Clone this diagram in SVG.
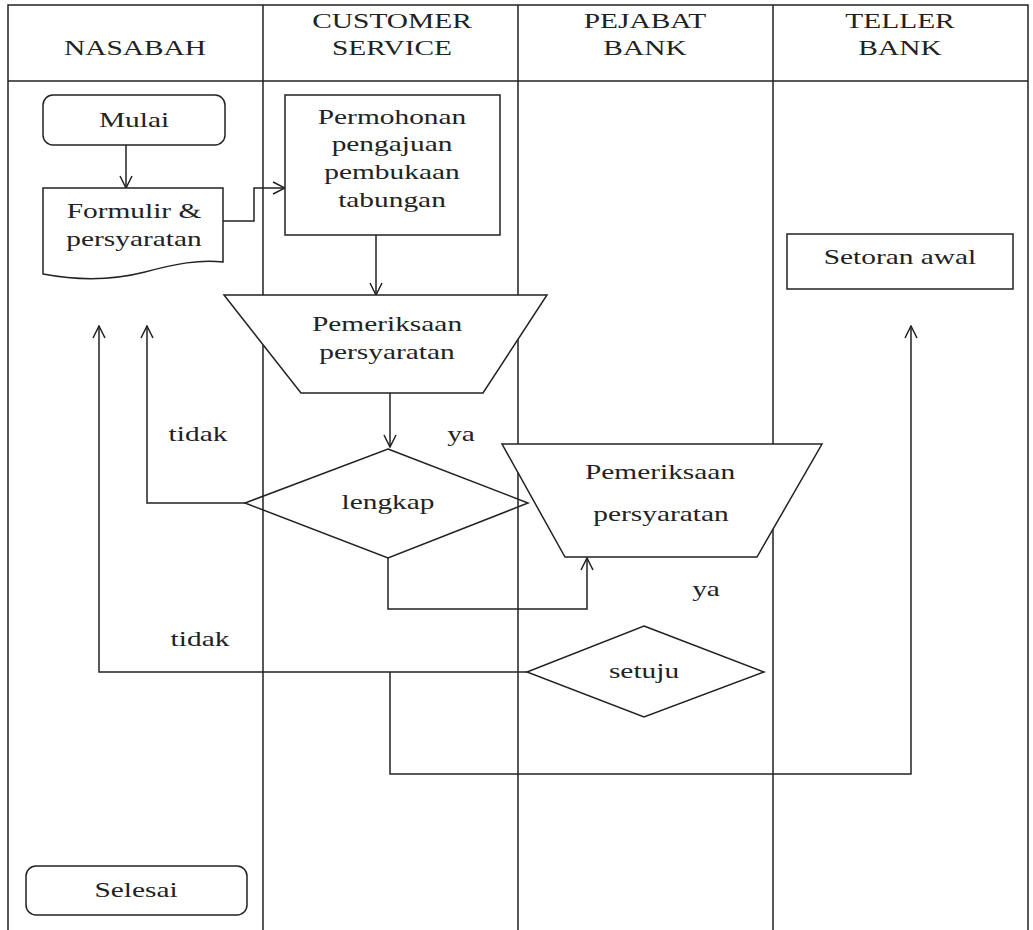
<svg xmlns="http://www.w3.org/2000/svg" width="1033" height="930" viewBox="0 0 1033 930">
<style>
.ln{stroke:#222;stroke-width:1.5;fill:none}
.sh{stroke:#222;stroke-width:1.5;fill:#fff}
.dm{stroke:#222;stroke-width:1.5;fill:none}
.c{stroke:#222;stroke-width:1.5;fill:none;marker-end:url(#ah)}
text{font-family:"Liberation Serif","Times New Roman",serif;font-size:21px;fill:#222;text-anchor:middle}
</style>
<defs>
<marker id="ah" viewBox="0 0 14 14" refX="13" refY="7" markerWidth="14" markerHeight="14" markerUnits="userSpaceOnUse" orient="auto">
<path d="M1,1 L13,7 L1,13" fill="none" stroke="#222" stroke-width="1.5"/>
</marker>
</defs>
<rect width="1033" height="930" fill="#fff"/>
<g id="lanes" class="ln">
<path d="M8,930 V5 H1028 V930"/>
<path d="M8,81 H1028"/>
<path d="M263,5 V930 M518,5 V930 M773,5 V930"/>
</g>
<g id="headers">
<text transform="translate(135,55) scale(1.4,1)">NASABAH</text>
<text transform="translate(392,28) scale(1.4,1)">CUSTOMER</text>
<text transform="translate(392,55) scale(1.4,1)">SERVICE</text>
<text transform="translate(645,28) scale(1.4,1)">PEJABAT</text>
<text transform="translate(645,55) scale(1.4,1)">BANK</text>
<text transform="translate(900,28) scale(1.4,1)">TELLER</text>
<text transform="translate(900,55) scale(1.4,1)">BANK</text>
</g>
<g id="connectors">
<path class="c" d="M126,145 V188"/>
<path class="c" d="M223,221 H254 V188 H285"/>
<path class="c" d="M376,235 V295"/>
<path class="c" d="M390,393 V447"/>
<path class="c" d="M245,503 H147 V326"/>
<path class="c" d="M388,558 V609 H587 V558"/>
<path class="c" d="M527,672 H99 V326"/>
<path class="c" d="M390,672 V774 H911 V326"/>
</g>
<g id="mulai">
<rect class="sh" x="43" y="95" width="182" height="50" rx="10"/>
<text transform="translate(134,127) scale(1.4,1)">Mulai</text>
</g>
<g id="formulir">
<path class="sh" d="M43,188 H223 V262 C200,259 175,264 145,272 C110,281 75,280 43,274 Z"/>
<text transform="translate(134,218) scale(1.4,1)">Formulir &amp;</text>
<text transform="translate(134,246) scale(1.4,1)">persyaratan</text>
</g>
<g id="permohonan">
<rect class="sh" x="285" y="95" width="215" height="140"/>
<text transform="translate(392,124) scale(1.4,1)">Permohonan</text>
<text transform="translate(392,151) scale(1.4,1)">pengajuan</text>
<text transform="translate(392,179) scale(1.4,1)">pembukaan</text>
<text transform="translate(392,207) scale(1.4,1)">tabungan</text>
</g>
<g id="periksa1">
<path class="sh" d="M224,295 H547 L483,393 H301 Z"/>
<text transform="translate(387,331) scale(1.4,1)">Pemeriksaan</text>
<text transform="translate(387,359) scale(1.4,1)">persyaratan</text>
</g>
<g id="lengkap">
<path class="dm" d="M388,449 L528,503 L388,558 L245,503 Z"/>
<text transform="translate(388,509) scale(1.4,1)">lengkap</text>
</g>
<g id="periksa2">
<path class="sh" d="M502,444 H822 L757,557 H565 Z"/>
<text transform="translate(660,479) scale(1.4,1)">Pemeriksaan</text>
<text transform="translate(661,521) scale(1.4,1)">persyaratan</text>
</g>
<g id="setuju">
<path class="dm" d="M644,626 L764,672 L644,717 L527,672 Z"/>
<text transform="translate(644,678) scale(1.4,1)">setuju</text>
</g>
<g id="setoran">
<rect class="sh" x="787" y="234" width="226" height="55"/>
<text transform="translate(900,264) scale(1.4,1)">Setoran awal</text>
</g>
<g id="selesai">
<rect class="sh" x="26" y="866" width="221" height="49" rx="10"/>
<text transform="translate(136,897) scale(1.4,1)">Selesai</text>
</g>
<g id="labels">
<text transform="translate(198,441) scale(1.4,1)">tidak</text>
<text transform="translate(461,441) scale(1.4,1)">ya</text>
<text transform="translate(706,596) scale(1.4,1)">ya</text>
<text transform="translate(200,646) scale(1.4,1)">tidak</text>
</g>
</svg>
